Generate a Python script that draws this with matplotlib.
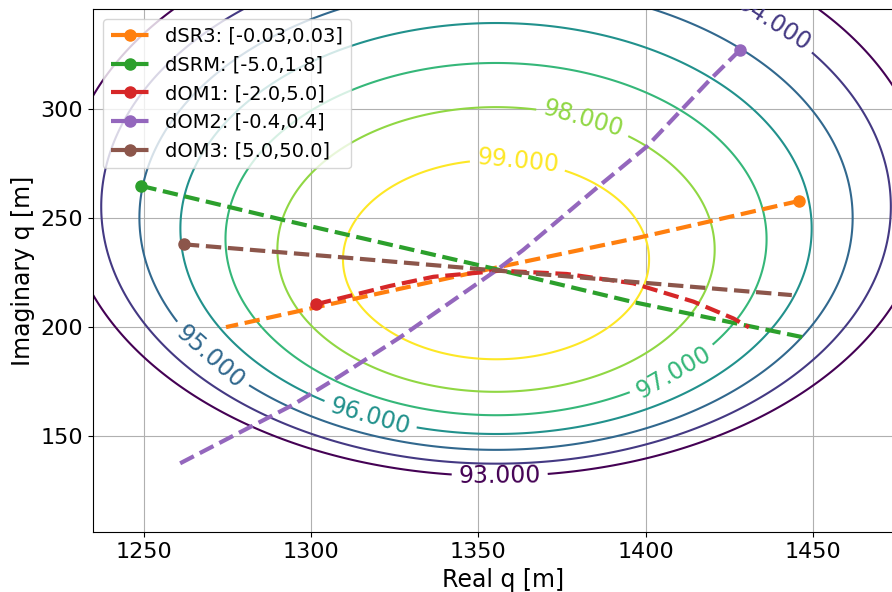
import numpy as np
import matplotlib.pyplot as plt

# target beam parameter q0 (overlap = 100 % there)
q0_re = 1355.3
q0_im = 226.4

# contour levels [%] and where their labels sit
levels = [93, 94, 95, 96, 97, 98, 99]
label_pos = [(1356.4, 132.1), (1438.6, 340.2), (1270.4, 187.3), (1317.6, 158.9),
             (1407.9, 180.4), (1381.3, 295.0), (1361.9, 277.6)]

# parameter sweeps, first point = start of the sweep (marked)
names = ['dSR3: [-0.03,0.03]', 'dSRM: [-5.0,1.8]', 'dOM1: [-2.0,5.0]',
         'dOM2: [-0.4,0.4]', 'dOM3: [5.0,50.0]']
colors = ['C1', 'C2', 'C3', 'C4', 'C5']

dSR3_re = [1445.8, 1398.3, 1355.3, 1274.6]
dSR3_im = [257.9, 241.2, 227.3, 200.0]

dSRM_re = [1249.3, 1291.7, 1355.3, 1396.3, 1447.8]
dSRM_im = [264.8, 249.2, 226.6, 211.5, 195.1]

dOM1_re = [1301.5, 1323.6, 1336.6, 1356.5, 1376.4, 1396.3, 1414.3, 1426.2, 1430.9]
dOM1_im = [210.5, 218.9, 223.1, 225.9, 224.4, 220.1, 211.7, 204.0, 199.9]

dOM2_re = [1428.2, 1419.2, 1400.3, 1386.4, 1363.4, 1355.5, 1326.6, 1308.6, 1294.6, 1260.3]
dOM2_im = [327.2, 313.5, 282.8, 265.2, 235.4, 226.2, 195.3, 177.5, 164.3, 137.0]

dOM3_re = [1262.0, 1309.6, 1355.3, 1443.7]
dOM3_im = [238.0, 232.0, 226.0, 214.7]

sweeps_re = [dSR3_re, dSRM_re, dOM1_re, dOM2_re, dOM3_re]
sweeps_im = [dSR3_im, dSRM_im, dOM1_im, dOM2_im, dOM3_im]

# mode overlap between q = x + iy and q0
x = np.linspace(1230, 1485, 500)
y = np.linspace(100, 350, 500)
X, Y = np.meshgrid(x, y)
overlap = 100 * 4 * q0_im * Y / ((X - q0_re)**2 + (Y + q0_im)**2)

fig = plt.figure(figsize=(8.92, 5.92), dpi=100)
ax = fig.add_axes([93/892, 59.7/592, 0.9196, 523/592])

cs = ax.contour(X, Y, overlap, levels=levels, cmap='viridis')
ax.clabel(cs, fmt='%.3f', fontsize=17, manual=label_pos)

for re, im, name, c in zip(sweeps_re, sweeps_im, names, colors):
    ax.plot(re, im, '--', color=c, lw=3, marker='o', markersize=8,
            markevery=[0], label=name)

ax.set_xlim(1234.85, 1480)
ax.set_ylim(105.8, 345.9)
ax.set_xticks([1250, 1300, 1350, 1400, 1450])
ax.set_yticks([150, 200, 250, 300])
ax.tick_params(labelsize=16)
ax.set_xlabel('Real q [m]', fontsize=17)
ax.set_ylabel('Imaginary q [m]', fontsize=17)
ax.grid(True)
ax.legend(loc='upper left', fontsize=14)

plt.savefig('out.png', dpi=100)
